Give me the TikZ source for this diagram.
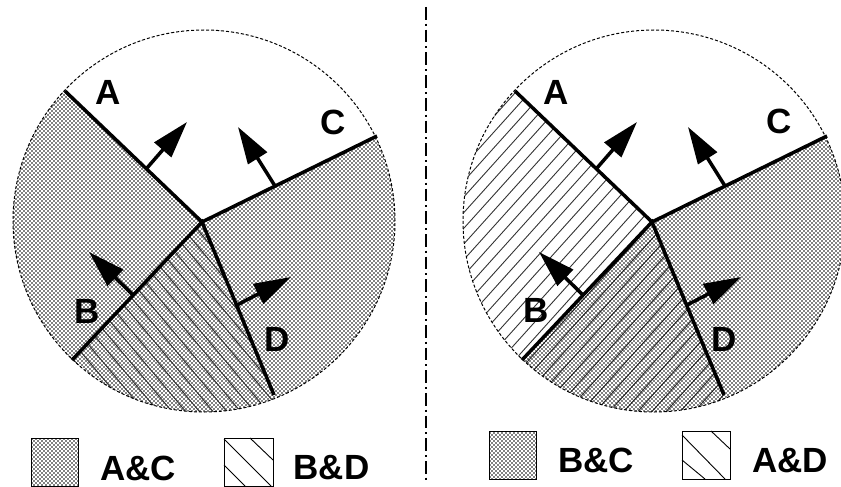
\documentclass[tikz,border=0pt]{standalone}
\usepackage{fontspec}
\setmainfont{Liberation Sans}
\usetikzlibrary{calc,patterns,arrows.meta}

\pgfdeclarepatternformonly{checkdots}{\pgfqpoint{-1pt}{-1pt}}{\pgfqpoint{3pt}{3pt}}{\pgfqpoint{4pt}{4pt}}{%
  \pgfpathcircle{\pgfqpoint{0pt}{0pt}}{0.78pt}%
  \pgfpathcircle{\pgfqpoint{2pt}{2pt}}{0.78pt}%
  \pgfusepath{fill}}

\tikzset{
  dotfill/.style={pattern=checkdots, pattern color=black},
  hatchline/.style={line width=0.9pt, draw=black!80},
  rim/.style={draw, line width=1pt, dash pattern=on 3pt off 2pt},
  wall/.style={line width=3.5pt},
  normarrow/.style={line width=3.5pt, -{Triangle[length=37pt,width=22pt]}},
  lbl/.style={font=\bfseries\fontsize{35}{35}\selectfont, inner sep=0pt, anchor=center},
  keybox/.style={draw, line width=1pt, inner sep=0pt},
  keyline/.style={line width=0.9pt},
  divider/.style={line width=2pt, dash pattern=on 12.7pt off 4pt on 2pt off 4pt}
}

\begin{document}
\begin{tikzpicture}[x=1pt,y=-1pt]
\useasboundingbox (0,0) rectangle (841,487);

% ---------- left figure ----------
\coordinate (LO) at (204,221);
\coordinate (LJ) at (202,222);
\coordinate (LA) at (65,91);
\coordinate (LC) at (377,136);
\coordinate (LB) at (72,360);
\coordinate (LD) at (274,395);
\begin{scope}
  \clip (LO) circle[radius=191pt];
  \fill[dotfill] (LO) circle[radius=195pt];
  \fill[white] (LJ) -- ($(LJ)!3!(LA)$) -- ($(LJ)+(0,-600)$) -- ($(LJ)!3!(LC)$) -- cycle;
  \clip (LJ) -- ($(LJ)!3!(LB)$) -- ($(LJ)+(0,600)$) -- ($(LJ)!3!(LD)$) -- cycle;
  \foreach \k in {-20,...,20}{
    \draw[hatchline] (LO) ++({\k*10.5*0.766-250*0.643},{-\k*10.5*0.643-250*0.766}) -- ++({500*0.643},{500*0.766});
  }
\end{scope}
\draw[rim] (LO) circle[radius=191pt];
\draw[wall] (LA) -- (LJ) -- (LC);
\draw[wall] (LB) -- (LJ) -- (LD);

\coordinate (LAa) at (147,168); \coordinate (LAb) at (187,122);
\coordinate (LCa) at (275,186); \coordinate (LCb) at (238,127);
\coordinate (LBa) at (133,295); \coordinate (LBb) at (89,252);
\coordinate (LDa) at (237,305); \coordinate (LDb) at (291,277);
\draw[normarrow] (LAa) -- (LAb);
\draw[normarrow] (LCa) -- (LCb);
\draw[normarrow] (LBa) -- (LBb);
\draw[normarrow] (LDa) -- (LDb);

\node[lbl] (LtA) at (108,92.5) {A};
\node[lbl] (LtC) at (333.5,122) {C};
\node[lbl] (LtB) at (87,311) {B};
\node[lbl] (LtD) at (277.5,339.5) {D};

% left legend
\node[keybox, dotfill, minimum width=47pt, minimum height=48pt] (LK1) at (54.5,462) {};
\node[lbl] (LK1t) at (138,468) {A\&C};
\node[keybox, minimum width=49pt, minimum height=48pt] (LK2) at (248.5,462) {};
\coordinate (LK2a) at (224,439); \coordinate (LK2b) at (271,486);
\coordinate (LK2c) at (250,438); \coordinate (LK2d) at (273,460);
\coordinate (LK2e) at (224,465); \coordinate (LK2f) at (245,486);
\draw[keyline] (LK2a) -- (LK2b);
\draw[keyline] (LK2c) -- (LK2d);
\draw[keyline] (LK2e) -- (LK2f);
\node[lbl] (LK2t) at (331.5,468) {B\&D};

% ---------- divider ----------
\coordinate (Dtop) at (426,7);
\coordinate (Dbot) at (426,481);
\draw[divider] (Dtop) -- (Dbot);

% ---------- right figure ----------
\coordinate (RO) at (654,221);
\coordinate (RJ) at (652,222);
\coordinate (RA) at (515,91);
\coordinate (RC) at (827,136);
\coordinate (RB) at (522,360);
\coordinate (RD) at (724,395);
\begin{scope}
  \clip (RO) circle[radius=191pt];
  \begin{scope}
    \clip (RJ) -- ($(RJ)!3!(RA)$) -- ($(RJ)+(-600,0)$) -- ($(RJ)+(0,600)$) -- ($(RJ)!3!(RD)$) -- cycle;
    \foreach \k in {-20,...,20}{
      \draw[hatchline] (RO) ++({\k*10.5*0.743-250*0.669},{\k*10.5*0.669+250*0.743}) -- ++({500*0.669},{-500*0.743});
    }
  \end{scope}
  \fill[dotfill] (RJ) -- ($(RJ)!3!(RB)$) -- ($(RJ)+(0,600)$) -- ($(RJ)+(600,0)$) -- ($(RJ)!3!(RC)$) -- cycle;
\end{scope}
\draw[rim] (RO) circle[radius=191pt];
\draw[wall] (RA) -- (RJ) -- (RC);
\draw[wall] (RB) -- (RJ) -- (RD);

\coordinate (RAa) at (597,168); \coordinate (RAb) at (637,122);
\coordinate (RCa) at (725,186); \coordinate (RCb) at (688,127);
\coordinate (RBa) at (583,295); \coordinate (RBb) at (539,252);
\coordinate (RDa) at (687,305); \coordinate (RDb) at (741,277);
\draw[normarrow] (RAa) -- (RAb);
\draw[normarrow] (RCa) -- (RCb);
\draw[normarrow] (RBa) -- (RBb);
\draw[normarrow] (RDa) -- (RDb);

\node[lbl] (RtA) at (556.5,92.5) {A};
\node[lbl] (RtC) at (779,121) {C};
\node[lbl] (RtB) at (536.5,310) {B};
\node[lbl] (RtD) at (724,339) {D};

% right legend
\node[keybox, dotfill, minimum width=47pt, minimum height=48pt] (RK1) at (512.5,455) {};
\node[lbl] (RK1t) at (596,460.5) {B\&C};
\node[keybox, minimum width=48pt, minimum height=48pt] (RK2) at (706,455) {};
\coordinate (RK2a) at (682,435); \coordinate (RK2b) at (725,479);
\coordinate (RK2c) at (711,431); \coordinate (RK2d) at (730,449);
\coordinate (RK2e) at (682,460); \coordinate (RK2f) at (705,479);
\draw[keyline] (RK2a) -- (RK2b);
\draw[keyline] (RK2c) -- (RK2d);
\draw[keyline] (RK2e) -- (RK2f);
\node[lbl] (RK2t) at (790,460.5) {A\&D};
\end{tikzpicture}
\end{document}
